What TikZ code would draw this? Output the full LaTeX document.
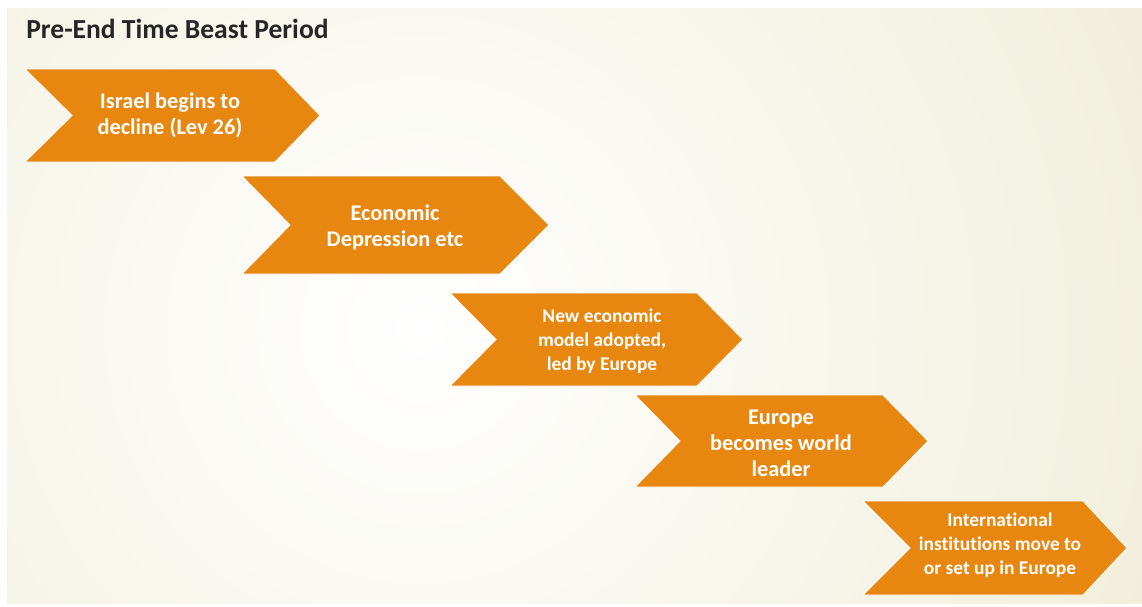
\documentclass[tikz,border=0pt]{standalone}
\usepackage{fontspec}
\setmainfont[Ligatures=NoCommon]{Carlito}
\usepackage{tikz}
\usetikzlibrary{positioning}

\definecolor{chevorange}{RGB}{232,135,16}
\definecolor{bgbeige}{RGB}{231,227,193}
\definecolor{titlegray}{RGB}{38,38,38}

\begin{document}
\begin{tikzpicture}[x=0.025cm, y=-0.025cm,
    chevron/.style={draw=white, line width=0.6pt, fill=chevorange, line join=miter},
    steptext/.style={text=white, align=center, font=\bfseries\fontsize{15.9}{18.5}\selectfont},
    smalltext/.style={text=white, align=center, font=\bfseries\fontsize{13.8}{17.1}\selectfont}]
\useasboundingbox (0,0) rectangle (1142,606);
\fill[white] (0,0) rectangle (1142,606);

% background panel
\begin{scope}
\clip (7,8) rectangle (1142,603);
\shade[inner color=white, outer color=bgbeige] (420,330) circle (1350);
\end{scope}

\node[anchor=base west, inner sep=0pt, text=titlegray, font=\bfseries\fontsize{19.6}{23}\selectfont] (title) at (26,38) {Pre-End Time Beast Period};

% chevrons
\draw[chevron] (25,69) -- (275,69) -- (320,115.5) -- (275,162) -- (25,162) -- (72,115.5) -- cycle;
\node[steptext] (israel) at (170,115) {Israel begins to\\decline (Lev 26)};

\draw[chevron] (242,176) -- (500,176) -- (549,225) -- (500,274) -- (242,274) -- (290,225) -- cycle;
\node[steptext] (depression) at (395,227) {Economic\\Depression etc};

\draw[chevron] (450,293) -- (697,293) -- (743,339.5) -- (697,386) -- (450,386) -- (496,339.5) -- cycle;
\node[smalltext] (model) at (602,341) {New economic\\model adopted,\\led by Europe};

\draw[chevron] (635,395) -- (883,395) -- (928,441) -- (883,487) -- (635,487) -- (680,441) -- cycle;
\node[steptext] (leader) at (781,443) {Europe\\becomes world\\leader};

\draw[chevron] (863,501) -- (1083,501) -- (1127,548) -- (1083,595) -- (863,595) -- (910,548) -- cycle;
\node[smalltext] (institutions) at (1000,545) {International\\institutions move to\\or set up in Europe};

\end{tikzpicture}
\end{document}
